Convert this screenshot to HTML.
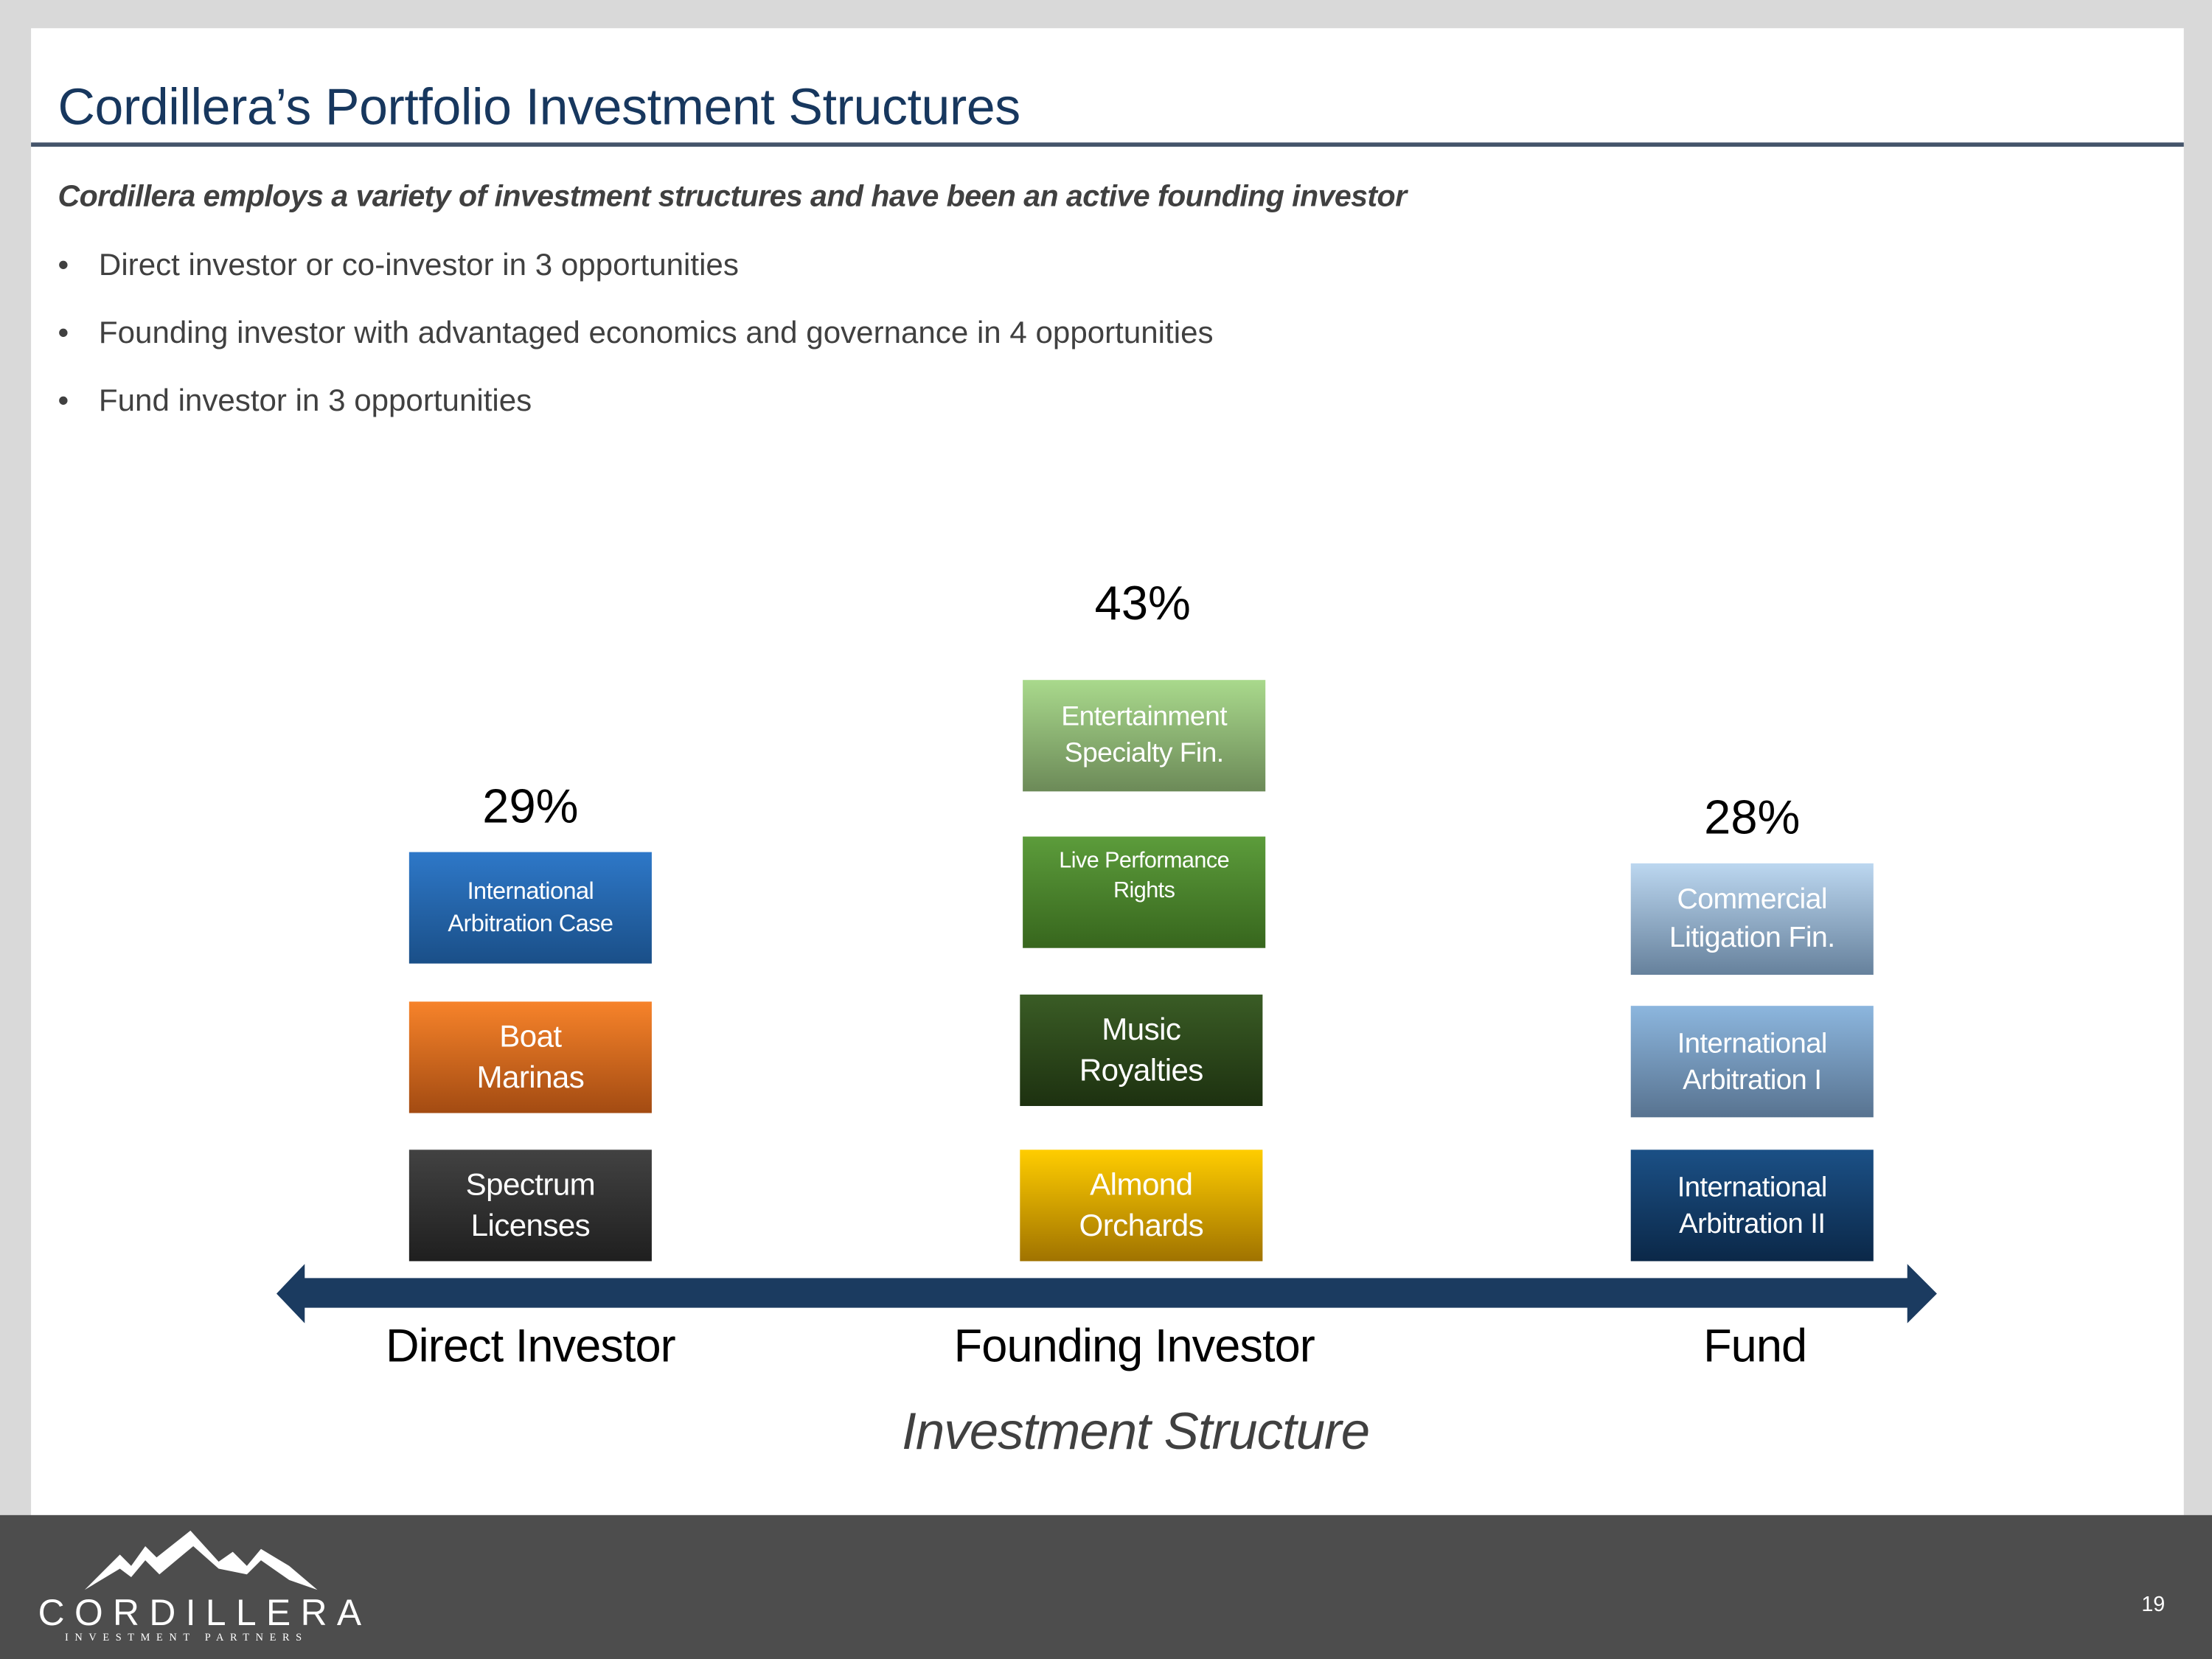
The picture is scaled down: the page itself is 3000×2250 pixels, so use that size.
<!DOCTYPE html>
<html><head><meta charset="utf-8">
<style>
html,body{margin:0;padding:0;}
body{width:3000px;height:2250px;overflow:hidden;background:#d9d9d9;}
#s{position:absolute;left:0;top:0;width:1568px;height:1176px;transform:scale(1.91327);transform-origin:0 0;font-family:"Liberation Sans",sans-serif;}
.p{position:absolute;}
.box{position:absolute;width:172px;height:79px;color:#fff;display:flex;align-items:center;justify-content:center;text-align:center;line-height:1.3;letter-spacing:-0.3px;}
.pct{position:absolute;width:172px;text-align:center;font-size:34px;color:#000;}
.lab{position:absolute;font-size:33px;color:#000;text-align:center;width:400px;letter-spacing:-0.5px;}
</style></head><body>
<div id="s">
<div class="p" style="left:22px;top:20px;width:1526px;height:1054px;background:#fff;"></div>
<div class="p" style="left:41px;top:55px;font-size:36.5px;color:#17375e;letter-spacing:-0.2px;white-space:nowrap;">Cordillera’s Portfolio Investment Structures</div>
<div class="p" style="left:22px;top:101px;width:1526px;height:3px;background:#44546a;"></div>
<div class="p" style="left:41px;top:127px;font-size:21.5px;font-weight:bold;font-style:italic;color:#404040;white-space:nowrap;letter-spacing:-0.3px;">Cordillera employs a variety of investment structures and have been an active founding investor</div>
<div class="p" style="left:41px;top:175px;font-size:22px;color:#404040;white-space:nowrap;">•<span style="position:absolute;left:29px;">Direct investor or co-investor in 3 opportunities</span></div>
<div class="p" style="left:41px;top:223px;font-size:22px;color:#404040;white-space:nowrap;">•<span style="position:absolute;left:29px;">Founding investor with advantaged economics and governance in 4 opportunities</span></div>
<div class="p" style="left:41px;top:271px;font-size:22px;color:#404040;white-space:nowrap;">•<span style="position:absolute;left:29px;">Fund investor in 3 opportunities</span></div>

<div class="pct" style="left:290px;top:553px;">29%</div>
<div class="pct" style="left:724px;top:409px;">43%</div>
<div class="pct" style="left:1156px;top:561px;">28%</div>

<div class="box" style="left:290px;top:604px;font-size:17px;background:linear-gradient(#2e78c8,#1a4f88);">International<br>Arbitration Case</div>
<div class="box" style="left:290px;top:710px;font-size:22px;background:linear-gradient(#f7832a,#a34b12);">Boat<br>Marinas</div>
<div class="box" style="left:290px;top:815px;font-size:22px;background:linear-gradient(#424242,#1f1f1f);">Spectrum<br>Licenses</div>

<div class="box" style="left:725px;top:482px;font-size:19.5px;background:linear-gradient(#a9d98c,#6c8a58);">Entertainment<br>Specialty Fin.</div>
<div class="box" style="left:725px;top:593px;font-size:16px;background:linear-gradient(#5c9c3b,#37661d);align-items:flex-start;"><div style="margin-top:8px;">Live Performance<br>Rights</div></div>
<div class="box" style="left:723px;top:705px;font-size:22px;background:linear-gradient(#3a5c25,#1d3110);">Music<br>Royalties</div>
<div class="box" style="left:723px;top:815px;font-size:22px;background:linear-gradient(#ffcd00,#a07300);">Almond<br>Orchards</div>

<div class="box" style="left:1156px;top:612px;font-size:20.5px;background:linear-gradient(#bcd7f0,#66819c);">Commercial<br>Litigation Fin.</div>
<div class="box" style="left:1156px;top:713px;font-size:20px;background:linear-gradient(#8cb6de,#587390);">International<br>Arbitration I</div>
<div class="box" style="left:1156px;top:815px;font-size:20px;background:linear-gradient(#1b5086,#0b2848);">International<br>Arbitration II</div>

<svg class="p" style="left:0;top:0;" width="1568" height="1176">
<polygon points="196,917 216,896 216,906 1352,906 1352,896 1373,917 1352,938 1352,927 216,927 216,938" fill="#1b3b60"/>
</svg>

<div class="lab" style="left:176px;top:935px;">Direct Investor</div>
<div class="lab" style="left:604px;top:935px;">Founding Investor</div>
<div class="lab" style="left:1044px;top:935px;">Fund</div>
<div class="lab" style="left:555px;top:994px;width:500px;font-size:37px;font-style:italic;color:#404040;">Investment Structure</div>

<div class="p" style="left:0;top:1074px;width:1568px;height:102px;background:#4d4d4d;"></div>
<svg class="p" style="left:55px;top:1082px;" width="180" height="50">
<polygon points="5,45 30,20 38,28 48,14 56,22 80,3 100,25 110,18 120,28 130,16 150,28 170,45 150,38 130,24 120,34 100,30 82,14 58,34 48,24 38,36 30,30" fill="#fff"/>
</svg>
<div class="p" style="left:27px;top:1128px;font-size:26px;color:#fff;letter-spacing:7px;white-space:nowrap;">CORDILLERA</div>
<div class="p" style="left:46px;top:1156px;font-size:7.5px;color:#fff;letter-spacing:4.5px;font-family:'Liberation Serif',serif;white-space:nowrap;">INVESTMENT PARTNERS</div>
<div class="p" style="left:1518px;top:1129px;font-size:15px;color:#fff;">19</div>
</div>
</body></html>
